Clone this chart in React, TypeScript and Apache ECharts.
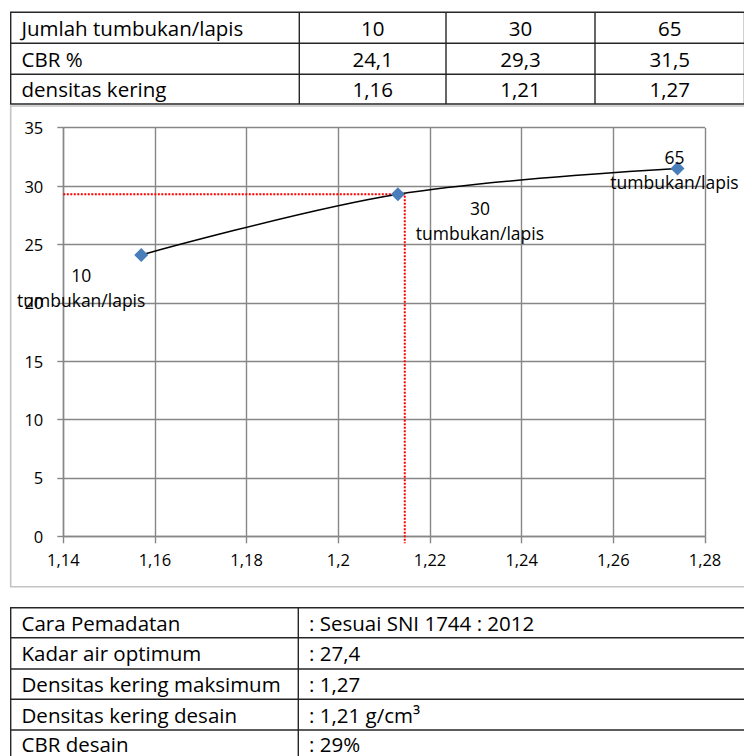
import React, { useEffect, useRef } from "react";
import * as echarts from "echarts";

// ---- data ----
const blowsPerLayer = ["10", "30", "65"];
const cbrTable = ["24,1", "29,3", "31,5"];
const densityTable = ["1,16", "1,21", "1,27"];
const topRowLabels = ["Jumlah tumbukan/lapis", "CBR %", "densitas kering"];
const densityPlot = [1.157, 1.213, 1.274];
const cbrValues = [24.1, 29.3, 31.5];
const designDensity = 1.2145;
const designCbr = 29.3;
const belowAxisExtent = -0.6;
const summaryLabels = [
  "Cara Pemadatan",
  "Kadar air optimum",
  "Densitas kering maksimum",
  "Densitas kering desain",
  "CBR desain",
];
const summaryValues = [
  ": Sesuai SNI 1744 : 2012",
  ": 27,4",
  ": 1,27",
  ": 1,21 g/cm³",
  ": 29%",
];
const labelOffsets: number[][] = [
  [-60, 33],
  [82, 26],
  [-3, 1],
];

const FONT = "'Open Sans', 'Noto Sans', sans-serif";
const TABLE_FS = 20.5;
const LINE_C = "#262626";
const GRID_C = "#878787";

function buildGraphics() {
  const g: any[] = [];
  const line = (x1: number, y1: number, x2: number, y2: number, color = LINE_C, w = 1.4) =>
    g.push({ type: "line", silent: true, shape: { x1, y1, x2, y2 }, style: { stroke: color, lineWidth: w } });
  const text = (t: string, x: number, y: number, align: string) =>
    g.push({
      type: "text",
      silent: true,
      x,
      y,
      style: {
        text: t,
        fill: "#000",
        fontSize: TABLE_FS,
        fontFamily: FONT,
        lineHeight: 22,
        align,
        verticalAlign: "middle",
      },
    });

  // top table
  const topRows = [12.3, 43.3, 74.3, 104];
  const topCols = [10.7, 299.3, 446, 595, 744.5];
  topRows.forEach((y) => line(10, y, 744, y));
  topCols.forEach((x) => line(x, topRows[0], x, topRows[3]));
  const rowVals = [blowsPerLayer, cbrTable, densityTable];
  for (let r = 0; r < 3; r++) {
    const cy = (topRows[r] + topRows[r + 1]) / 2;
    text(topRowLabels[r], 21.5, cy, "left");
    for (let c = 0; c < 3; c++) {
      text(rowVals[r][c], (topCols[c + 1] + topCols[c + 2]) / 2, cy, "center");
    }
  }

  // chart frame
  g.push({
    type: "rect",
    silent: true,
    shape: { x: 10.7, y: 106, width: 740, height: 480.7 },
    style: { fill: "none", stroke: "#c3c3c3", lineWidth: 1.6 },
    z: -10,
  });

  // bottom table
  const botRows = [607.7, 637.7, 669, 699.3, 730, 760.5];
  botRows.forEach((y) => line(10, y, 744, y));
  line(10.7, botRows[0], 10.7, 760);
  line(298.3, botRows[0], 298.3, 760);
  for (let r = 0; r < summaryLabels.length; r++) {
    const cy = Math.min((botRows[r] + botRows[r + 1]) / 2, 743.5);
    text(summaryLabels[r], 21.5, cy, "left");
    text(summaryValues[r], 309, cy, "left");
  }
  return g;
}

export default function App() {
  const ref = useRef<HTMLDivElement>(null);
  useEffect(() => {
    document.body.style.margin = "0";
    const chart = echarts.init(ref.current!, null, { renderer: "svg" });
    const fmt = (v: number) => String(Math.round(v * 100) / 100).replace(".", ",");
    chart.setOption({
      animation: false,
      backgroundColor: "#ffffff",
      textStyle: { fontFamily: FONT },
      grid: { left: 63.3, right: 39, top: 127.7, bottom: 219.7, containLabel: false },
      xAxis: {
        type: "value",
        min: 1.14,
        max: 1.28,
        interval: 0.02,
        axisLine: { show: true, onZero: false, lineStyle: { color: GRID_C, width: 1.4 } },
        axisTick: { show: true, length: 7, lineStyle: { color: GRID_C, width: 1.4 } },
        splitLine: { show: true, lineStyle: { color: GRID_C, width: 1.4 } },
        axisLabel: { formatter: fmt, fontSize: 16.5, color: "#000", fontFamily: FONT, margin: 15 },
      },
      yAxis: {
        type: "value",
        min: 0,
        max: 35,
        interval: 5,
        axisLine: { show: true, lineStyle: { color: GRID_C, width: 1.4 } },
        axisTick: { show: true, length: 6, lineStyle: { color: GRID_C, width: 1.4 } },
        splitLine: { show: true, lineStyle: { color: GRID_C, width: 1.4 } },
        axisLabel: { fontSize: 16.5, color: "#000", fontFamily: FONT, margin: 20 },
      },
      series: [
        {
          type: "line",
          name: "desain",
          data: [
            [1.14, designCbr],
            [designDensity, designCbr],
            [designDensity, belowAxisExtent],
          ],
          symbol: "none",
          clip: false,
          silent: true,
          lineStyle: { color: "#ff0000", width: 2, type: [2, 1.5] },
          z: 2,
        },
        {
          type: "line",
          name: "CBR",
          smooth: 0.35,
          symbol: "diamond",
          symbolSize: 14,
          itemStyle: { color: "#4a7ebb" },
          lineStyle: { color: "#000000", width: 1.5 },
          z: 3,
          data: densityPlot.map((x, i) => ({
            value: [x, cbrValues[i]],
            label: {
              show: true,
              position: "inside",
              offset: labelOffsets[i],
              formatter: `${blowsPerLayer[i]}\ntumbukan/lapis`,
              fontSize: 17.5,
              lineHeight: 25,
              align: "center",
              color: "#000",
              fontFamily: FONT,
            },
          })),
        },
      ],
      graphic: buildGraphics(),
    });
    return () => chart.dispose();
  }, []);
  return <div ref={ref} style={{ width: 744, height: 756 }} />;
}
